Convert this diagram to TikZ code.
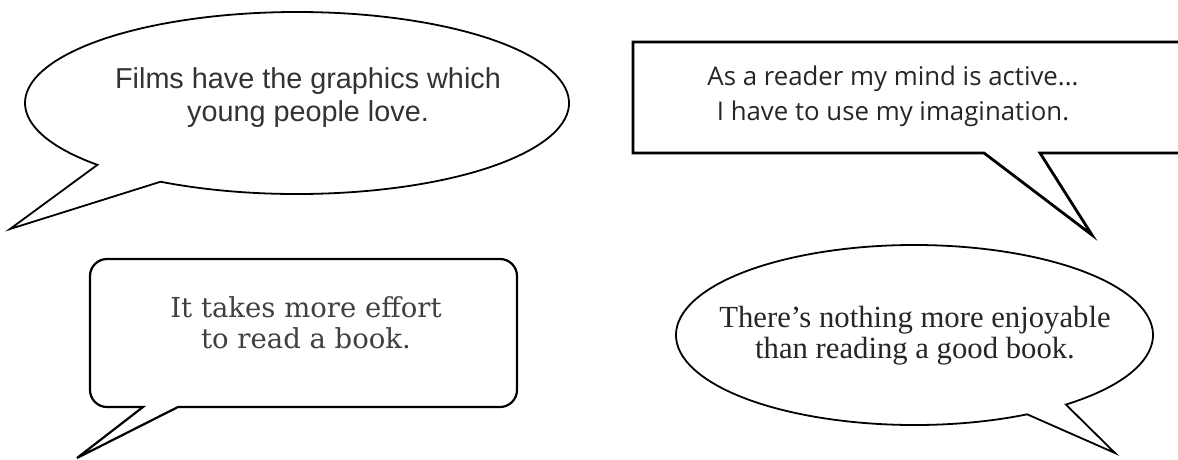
\documentclass[tikz,border=0pt]{standalone}
\usepackage{fontspec}
\newfontfamily\filmsfont{Liberation Sans}
\newfontfamily\readerfont{Open Sans}
\newfontfamily\effortfont{DejaVu Serif}
\newfontfamily\bookfont{Liberation Serif}
\definecolor{textgray}{HTML}{333333}
\tikzset{
  bubble/.style={draw=black, fill=white, line width=1.8pt},
  saying/.style={align=center, text=textgray, inner sep=0pt},
}
\begin{document}
\begin{tikzpicture}[x=1pt,y=-1pt]
\useasboundingbox (0,0) rectangle (1178,459);
\clip (0,0) rectangle (1178,459);

% oval, top left
\draw [bubble] (297,103) ++(120.1:272 and 91) arc [start angle=120.1, end angle=-222.8, x radius=272, y radius=91] -- (10,229) -- cycle;
\node [saying, font=\filmsfont\fontsize{28.8}{33}\selectfont] (films) at (308,98) {Films have the graphics which\\young people love.};

% box, top right
\draw [bubble, line width=2.8pt] (1200,153) -- (1040,153) -- (1092,235) -- (984,153) -- (633,153) -- (633,42) -- (1200,42);
\node [saying, text=black!85, font=\readerfont\fontsize{25.8}{35}\selectfont] (reader) at (893,96) {As a reader my mind is active...\\I have to use my imagination.};

% rounded box, bottom left
\draw [bubble, line width=2.2pt] (77,458) -- (143,407) [rounded corners=17pt] -- (90,407) -- (90,259) -- (517,259) -- (517,407) [sharp corners] -- (178,407) -- cycle;
\node [saying, text=black!75, font=\effortfont\fontsize{27.5}{31}\selectfont] (effort) at (306,323) {It takes more effort\\to read a book.};

% oval, bottom right
\draw [bubble] (914.5,335) ++(61.8:238.5 and 90) arc [start angle=61.8, end angle=410.6, x radius=238.5, y radius=90] -- (1115,453) -- cycle;
\node [saying, text=black!85, font=\bookfont\fontsize{30.7}{31}\selectfont] (book) at (915,336) {There’s nothing more enjoyable\\than reading a good book.};

\end{tikzpicture}
\end{document}
